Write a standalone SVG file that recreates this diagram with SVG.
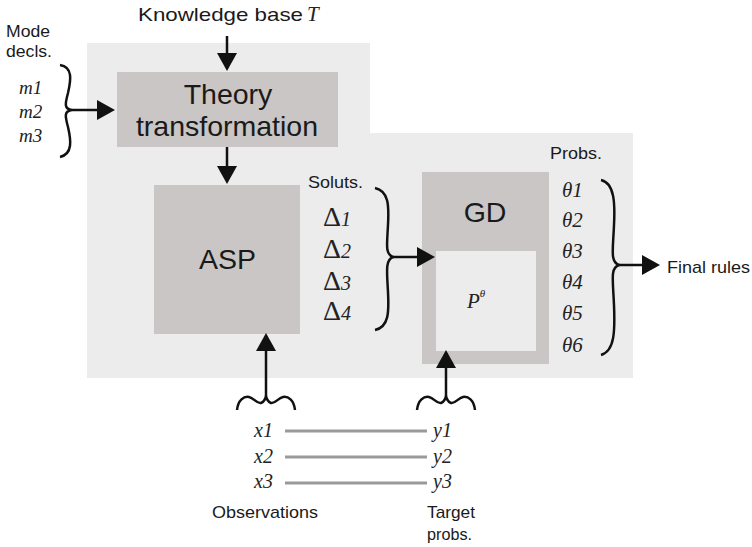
<svg xmlns="http://www.w3.org/2000/svg" width="752" height="547" viewBox="0 0 752 547">
<style>
.sans{font-family:"Liberation Sans",Arial,sans-serif;fill:#1a1a1a}
.lbl{font-size:17px}
.math{font-family:"Liberation Serif","Times New Roman",serif;font-style:italic;fill:#222}
.box{fill:#c9c6c5}
.brace{fill:none;stroke:#111;stroke-width:2.5}
.arr{stroke:#111;stroke-width:2.5;fill:none}
.pair{stroke:#9a9a9a;stroke-width:3}
</style>
<defs>
<marker id="ah" viewBox="0 0 18 20" refX="10" refY="10" markerWidth="18" markerHeight="20" markerUnits="userSpaceOnUse" orient="auto">
<path d="M0,0 L18,10 L0,20 z" fill="#111"/>
</marker>
</defs>
<rect width="752" height="547" fill="#fff"/>
<path d="M87,43 H370 V133 H633 V378 H87 Z" fill="#ececec"/>

<g id="theory">
<rect class="box" x="117" y="72" width="221" height="75"/>
<text class="sans" x="228" y="104" font-size="28.5" text-anchor="middle">Theory</text>
<text class="sans" x="227" y="136" font-size="28.5" text-anchor="middle">transformation</text>
</g>
<g id="asp">
<rect class="box" x="154" y="185" width="146" height="149"/>
<text class="sans" x="227.5" y="269" font-size="28.5" text-anchor="middle">ASP</text>
</g>
<g id="gd">
<rect class="box" x="422" y="172" width="127" height="192"/>
<rect x="436" y="251" width="100" height="100" fill="#ececec"/>
<text class="sans" x="485" y="222" font-size="28.5" text-anchor="middle">GD</text>
<text class="math" x="467" y="308" font-size="21">P<tspan font-size="11" dy="-11">θ</tspan></text>
</g>
<g id="kb">
<text class="sans" x="138" y="21" font-size="19" textLength="165" lengthAdjust="spacingAndGlyphs">Knowledge base</text>
<text class="math" x="307" y="21" font-size="21">T</text>
</g>
<g id="mode">
<text class="sans lbl" x="6" y="37" textLength="44" lengthAdjust="spacingAndGlyphs">Mode</text>
<text class="sans lbl" x="6" y="57" textLength="46" lengthAdjust="spacingAndGlyphs">decls.</text>
<text class="math" x="19" y="94" font-size="19">m1</text>
<text class="math" x="19" y="118" font-size="19">m2</text>
<text class="math" x="19" y="142" font-size="19">m3</text>
<path class="brace" d="M60,65 C73,67 71,80 68,93 C65,104 64,109 72,110 C64,111 65,116 68,127 C71,140 73,154 60,157"/>
</g>
<g id="soluts">
<text class="sans lbl" x="308" y="188" textLength="55" lengthAdjust="spacingAndGlyphs">Soluts.</text>
<text class="math" x="323" y="226" font-size="28"><tspan font-style="normal">Δ</tspan><tspan font-size="20">1</tspan></text>
<text class="math" x="323" y="258" font-size="28"><tspan font-style="normal">Δ</tspan><tspan font-size="20">2</tspan></text>
<text class="math" x="323" y="290" font-size="28"><tspan font-style="normal">Δ</tspan><tspan font-size="20">3</tspan></text>
<text class="math" x="323" y="320" font-size="28"><tspan font-style="normal">Δ</tspan><tspan font-size="20">4</tspan></text>
<path class="brace" d="M375,188 C389,191 389,206 388,225 C387,245 385,254 393,257 C385,260 387,272 388,292 C389,312 389,327 375,330"/>
</g>
<g id="probs">
<text class="sans lbl" x="550" y="159" textLength="52" lengthAdjust="spacingAndGlyphs">Probs.</text>
<text class="math" x="562" y="197" font-size="21">θ1</text>
<text class="math" x="562" y="227" font-size="21">θ2</text>
<text class="math" x="562" y="258" font-size="21">θ3</text>
<text class="math" x="562" y="289" font-size="21">θ4</text>
<text class="math" x="562" y="320" font-size="21">θ5</text>
<text class="math" x="562" y="352" font-size="21">θ6</text>
<path class="brace" d="M601,180 C615,183 615,205 614,225 C613,250 610,262 619,265 C610,268 613,280 614,305 C615,330 615,351 601,355"/>
<text class="sans lbl" x="667" y="273" textLength="83" lengthAdjust="spacingAndGlyphs">Final rules</text>
</g>
<g id="obs">
<text class="math" x="254" y="437" font-size="20">x1</text>
<text class="math" x="254" y="463" font-size="20">x2</text>
<text class="math" x="254" y="488" font-size="20">x3</text>
<text class="math" x="433" y="437" font-size="20">y1</text>
<text class="math" x="433" y="463" font-size="20">y2</text>
<text class="math" x="433" y="488" font-size="20">y3</text>
<text class="sans lbl" x="212" y="518" textLength="106" lengthAdjust="spacingAndGlyphs">Observations</text>
<text class="sans lbl" x="427" y="518" textLength="48" lengthAdjust="spacingAndGlyphs">Target</text>
<text class="sans lbl" x="427" y="540" textLength="45" lengthAdjust="spacingAndGlyphs">probs.</text>
<path class="brace" d="M237,410 C238,400 244,396 249,397 C254,398 257,404 261,403 C264,402 266,398 266,395 C266,398 268,402 271,403 C275,404 278,398 283,397 C288,396 294,400 295,410"/>
<path class="brace" d="M417,410 C418,400 424,396 429,397 C434,398 437,404 441,403 C444,402 446,398 446,395 C446,398 448,402 451,403 C455,404 458,398 463,397 C468,396 474,400 475,410"/>
</g>
<g id="connectors">
<line class="arr" x1="227" y1="36" x2="227" y2="63" marker-end="url(#ah)"/>
<line class="arr" x1="227" y1="147" x2="227" y2="176" marker-end="url(#ah)"/>
<line class="arr" x1="72" y1="110" x2="107" y2="110" marker-end="url(#ah)"/>
<line class="arr" x1="393" y1="257" x2="427" y2="257" marker-end="url(#ah)"/>
<line class="arr" x1="619" y1="265" x2="652" y2="265" marker-end="url(#ah)"/>
<line class="arr" x1="266" y1="395" x2="266" y2="341" marker-end="url(#ah)"/>
<line class="arr" x1="446" y1="395" x2="446" y2="358" marker-end="url(#ah)"/>
<line class="pair" x1="285" y1="431" x2="427" y2="431"/>
<line class="pair" x1="285" y1="457" x2="427" y2="457"/>
<line class="pair" x1="285" y1="483" x2="427" y2="483"/>
</g>
</svg>
